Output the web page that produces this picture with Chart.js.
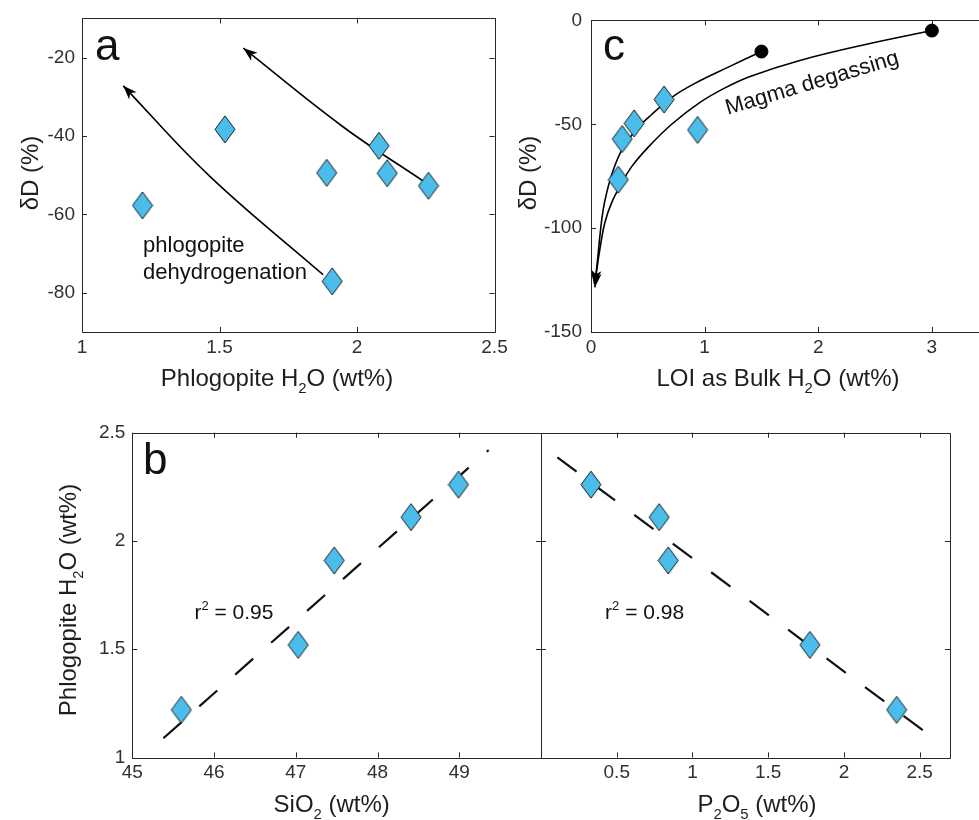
<!DOCTYPE html>
<html>
<head>
<meta charset="utf-8">
<script src="https://cdn.jsdelivr.net/npm/chart.js@4.4.0/dist/chart.umd.min.js"></script>
<style>
  html, body { margin: 0; padding: 0; background: #fff; overflow: hidden; }
  #fig { position: relative; width: 979px; height: 820px; overflow: hidden; }
  #fig canvas { position: absolute; }
</style>
</head>
<body>
<div id="fig">
  <canvas id="panelA" width="520" height="400" style="left:0;top:0"></canvas>
  <canvas id="panelC" width="510" height="400" style="left:500px;top:0"></canvas>
  <canvas id="panelB1" width="560" height="420" style="left:0;top:400px"></canvas>
  <canvas id="panelB2" width="449" height="420" style="left:530px;top:400px"></canvas>
</div>
<script>
const FONT = '"Liberation Sans", Arial, Helvetica, sans-serif';
const INK = '#262626';
const FILL = '#4bbdeb';

// (a) phlogopite H2O against dD
const phlH2O = [1.22, 1.52, 1.89, 1.91, 2.08, 2.11, 2.26];
const phlDD = [-57.7, -38.3, -49.4, -77.1, -42.5, -49.5, -52.7];
// dehydrogenation trends (drawn tail -> head)
const dehydRightX = [2.241, 1.95, 1.587];
const dehydRightY = [-51.5, -37.7, -17.6];
const dehydLeftX = [1.877, 1.465, 1.15];
const dehydLeftY = [-75.4, -50.3, -27.2];
const aXTicks = [1, 1.5, 2, 2.5];
const aYTicks = [-80, -60, -40, -20];

// (c) LOI against dD
const loi = [0.24, 0.275, 0.38, 0.643, 0.938];
const loiDD = [-76.7, -57.1, -49.6, -38.1, -52.7];
const meltX = [1.5, 3.0];
const meltY = [-15, -4.9];
const degasAX = [1.5, 1.208, 0.915, 0.724, 0.534, 0.387, 0.27, 0.196, 0.152, 0.108, 0.079, 0.05, 0.029];
const degasAY = [-15, -22.5, -30.3, -36.6, -45.3, -53.2, -62.6, -72.0, -79.9, -90.9, -103.4, -119.2, -127];
const degasBX = [3.0, 2.425, 1.838, 1.4, 1.179, 0.959, 0.71, 0.504, 0.358, 0.27, 0.182, 0.123, 0.079, 0.05, 0.035];
const degasBY = [-4.9, -11.5, -19.3, -27.0, -32.5, -39.5, -50, -61, -70.4, -78.3, -87.7, -97.2, -109.8, -120.5, -128.5];
const cXTicks = [0, 1, 2, 3];
const cYTicks = [-150, -100, -50, 0];

// (b) phlogopite H2O against whole-rock SiO2 and P2O5
const bH2O = [1.22, 1.52, 1.91, 2.11, 2.26];
const sio2 = [45.6, 47.03, 47.47, 48.41, 48.99];
const p2o5 = [2.348, 1.775, 0.84, 0.78, 0.33];
const sio2FitX = [45.38, 49.36];
const sio2FitY = [1.089, 2.42];
const p2o5FitX = [0.108, 2.549];
const p2o5FitY = [2.386, 1.111];
const bSiTicks = [45, 46, 47, 48, 49];
const bPTicks = [0.5, 1, 1.5, 2, 2.5];
const bYTicks = [1, 1.5, 2, 2.5];

const pts = (xs, ys) => xs.map((x, i) => ({ x, y: ys[i] }));

function diamondSprite(w, h) {
  const c = document.createElement('canvas');
  c.width = w + 2; c.height = h + 2;
  const g = c.getContext('2d');
  g.beginPath();
  g.moveTo(c.width / 2, 1);
  g.lineTo(c.width - 1, c.height / 2);
  g.lineTo(c.width / 2, c.height - 1);
  g.lineTo(1, c.height / 2);
  g.closePath();
  g.fillStyle = FILL;
  g.fill();
  g.lineWidth = 1;
  g.strokeStyle = '#1a1a1a';
  g.stroke();
  return c;
}
const diamond = diamondSprite(20, 27);

// text with sub/superscripts: plain strings or {sub:'2'} / {sup:'2'}
function drawRich(g, parts, x, y, size, opt = {}) {
  const segs = parts.map(p => typeof p === 'string' ? { t: p, s: size, dy: 0 }
    : p.sub ? { t: p.sub, s: size * 0.62, dy: size * 0.3 }
    : { t: p.sup, s: size * 0.62, dy: -size * 0.42 });
  let w = 0;
  segs.forEach(s => { g.font = s.s + 'px ' + FONT; s.w = g.measureText(s.t).width; w += s.w; });
  g.save();
  g.translate(x, y);
  if (opt.rotate) g.rotate(opt.rotate * Math.PI / 180);
  g.fillStyle = opt.color || '#1e1e1e';
  g.textBaseline = opt.baseline || 'alphabetic';
  g.textAlign = 'left';
  let cx = opt.align === 'left' ? 0 : -w / 2;
  segs.forEach(s => { g.font = s.s + 'px ' + FONT; g.fillText(s.t, cx, s.dy); cx += s.w; });
  g.restore();
}

// box with inward ticks, arrowheads, axis titles and in-plot text
function figure(cfg) {
  return {
    id: 'figure',
    beforeDatasetsDraw(chart) {
      const { ctx: g, chartArea: a, scales: { x, y } } = chart;
      const r = v => Math.round(v) + 0.5;
      const L = 5;
      g.save();
      g.strokeStyle = INK;
      g.lineWidth = 1;
      g.beginPath();
      g.rect(r(a.left), r(a.top), Math.round(a.right) - Math.round(a.left), Math.round(a.bottom) - Math.round(a.top));
      x.ticks.forEach(t => {
        const p = r(x.getPixelForValue(t.value));
        g.moveTo(p, a.bottom); g.lineTo(p, a.bottom - L);
        g.moveTo(p, a.top); g.lineTo(p, a.top + L);
      });
      y.ticks.forEach(t => {
        const p = r(y.getPixelForValue(t.value));
        g.moveTo(a.left, p); g.lineTo(a.left + L, p);
        g.moveTo(a.right, p); g.lineTo(a.right - L, p);
      });
      g.stroke();
      g.restore();
    },
    afterDatasetsDraw(chart) {
      const g = chart.ctx;
      const { x, y } = chart.scales;
      chart.data.datasets.forEach((ds, i) => {
        if (!ds.arrow) return;
        const els = chart.getDatasetMeta(i).data;
        const tip = els[els.length - 1];
        const prev = els[els.length - 2];
        const useCp = tip.cp1x !== undefined && Math.hypot(tip.x - tip.cp1x, tip.y - tip.cp1y) > 1;
        const fx = useCp ? tip.cp1x : prev.x;
        const fy = useCp ? tip.cp1y : prev.y;
        const ang = Math.atan2(tip.y - fy, tip.x - fx);
        g.save();
        g.translate(tip.x, tip.y);
        g.rotate(ang);
        g.beginPath();
        g.moveTo(0, 0);
        g.lineTo(-14, -5.2);
        g.lineTo(-10, 0);
        g.lineTo(-14, 5.2);
        g.closePath();
        g.fillStyle = '#000';
        g.fill();
        g.restore();
      });
      (cfg.notes || []).forEach(n => {
        drawRich(g, n.parts, x.getPixelForValue(n.x), y.getPixelForValue(n.y), n.size,
          { align: n.align, rotate: n.rotate, baseline: n.baseline, color: '#111' });
      });
      if (cfg.xTitle) drawRich(g, cfg.xTitle.parts, cfg.xTitle.x, cfg.xTitle.y, 24);
      if (cfg.yTitle) drawRich(g, cfg.yTitle.parts, cfg.yTitle.x, cfg.yTitle.y, 24, { rotate: -90 });
    }
  };
}

function axis(min, max, ticks, size, pad, showLabels = true) {
  return {
    type: 'linear',
    min, max,
    grid: { display: false, drawTicks: false },
    border: { display: false },
    afterBuildTicks: s => { s.ticks = ticks.map(v => ({ value: v })); },
    afterFit: s => { if (s.isHorizontal()) s.height = size; else s.width = size; },
    ticks: {
      display: showLabels, autoSkip: false, maxRotation: 0, padding: pad,
      color: '#303030', font: { family: FONT, size: 19 },
      callback: v => String(v)
    }
  };
}

const markers = (data) => ({ data, pointStyle: diamond, pointRadius: 10, showLine: false });
const trend = (data, extra) => Object.assign({
  data, showLine: true, pointRadius: 0, borderColor: '#000', borderWidth: 1.6,
  tension: 0.4, fill: false
}, extra);

function build(id, datasets, scales, padding, deco) {
  return new Chart(document.getElementById(id), {
    type: 'scatter',
    data: { datasets },
    options: {
      responsive: false,
      animation: false,
      events: [],
      layout: { padding },
      scales,
      plugins: { legend: { display: false }, tooltip: { enabled: false } }
    },
    plugins: [figure(deco)]
  });
}

// (a)
build('panelA', [
  markers(pts(phlH2O, phlDD)),
  trend(pts(dehydRightX, dehydRightY), { arrow: true }),
  trend(pts(dehydLeftX, dehydLeftY), { arrow: true })
], {
  x: axis(1, 2.5, aXTicks, 68, 4),
  y: axis(-90, -10, aYTicks, 82, 7)
}, { top: 13, right: 25.5, left: 0, bottom: 0 }, {
  xTitle: { parts: ['Phlogopite H', { sub: '2' }, 'O (wt%)'], x: 277, y: 386 },
  yTitle: { parts: ['δD (%)'], x: 38, y: 173 },
  notes: [
    { parts: ['a'], x: 1.047, y: -20.5, size: 44, align: 'left' },
    { parts: ['phlogopite'], x: 1.222, y: -69.6, size: 22, align: 'left' },
    { parts: ['dehydrogenation'], x: 1.222, y: -76.6, size: 22, align: 'left' }
  ]
});

// (c)
build('panelC', [
  markers(pts(loi, loiDD)),
  { data: pts(meltX, meltY), pointStyle: 'circle', pointRadius: 6.5, backgroundColor: '#000', borderColor: '#000', showLine: false },
  trend(pts(degasAX, degasAY), { arrow: true }),
  trend(pts(degasBX, degasBY), { arrow: true })
], {
  x: axis(0, 3.5, cXTicks, 68, 4),
  y: axis(-150, 0, cYTicks, 91, 9)
}, { top: 14, right: 21.3, left: 0, bottom: 0 }, {
  xTitle: { parts: ['LOI as Bulk H', { sub: '2' }, 'O (wt%)'], x: 278, y: 386 },
  yTitle: { parts: ['δD (%)'], x: 36, y: 173 },
  notes: [
    { parts: ['c'], x: 0.106, y: -19.3, size: 44, align: 'left' },
    { parts: ['Magma degassing'], x: 1.946, y: -30.3, size: 22, rotate: -16.5, baseline: 'middle' }
  ]
});

// (b) left: SiO2
build('panelB1', [
  markers(pts(sio2, bH2O)),
  trend(pts(sio2FitX, sio2FitY), { tension: 0, borderWidth: 2.2, borderColor: '#111', borderDash: [24, 24] })
], {
  x: axis(45, 50, bSiTicks, 62.5, 4),
  y: axis(1, 2.5, bYTicks, 132.3, 7)
}, { top: 32.7, right: 19, left: 0, bottom: 0 }, {
  xTitle: { parts: ['SiO', { sub: '2' }, ' (wt%)'], x: 331.7, y: 412 },
  yTitle: { parts: ['Phlogopite H', { sub: '2' }, 'O (wt%)'], x: 76, y: 200 },
  notes: [
    { parts: ['b'], x: 45.13, y: 2.311, size: 44, align: 'left' },
    { parts: ['r', { sup: '2' }, ' = 0.95'], x: 45.76, y: 1.64, size: 21, align: 'left' }
  ]
});

// (b) right: P2O5
build('panelB2', [
  markers(pts(p2o5, bH2O)),
  trend(pts(p2o5FitX, p2o5FitY), { tension: 0, borderWidth: 2.2, borderColor: '#111', borderDash: [24, 24] })
], {
  x: axis(0, 2.7, bPTicks, 62.5, 4),
  y: axis(1, 2.5, bYTicks, 11, 0, false)
}, { top: 32.7, right: 29, left: 0, bottom: 0 }, {
  xTitle: { parts: ['P', { sub: '2' }, 'O', { sub: '5' }, ' (wt%)'], x: 227, y: 412 },
  notes: [
    { parts: ['r', { sup: '2' }, ' = 0.98'], x: 0.423, y: 1.64, size: 21, align: 'left' }
  ]
});
</script>
</body>
</html>
